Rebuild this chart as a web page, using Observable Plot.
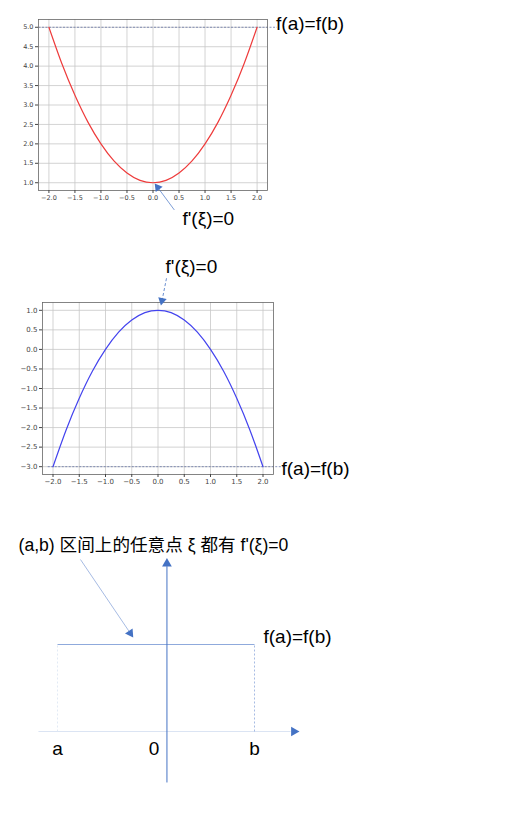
<!DOCTYPE html>
<html><head><meta charset="utf-8">
<script src="https://cdn.jsdelivr.net/npm/d3@7"></script>
<script src="https://cdn.jsdelivr.net/npm/@observablehq/plot@0.6"></script>
<style>
body{margin:0;background:#fff;}
#wrap{position:relative;width:512px;height:834px;overflow:hidden;background:#fff;}
.panel{position:absolute;left:0;}
</style></head><body><div id="wrap"></div>
<script>
// ---- data ----
const xValues   = [-2,-1.75,-1.5,-1.25,-1,-0.75,-0.5,-0.25,0,0.25,0.5,0.75,1,1.25,1.5,1.75,2];
const redValues = [5,4.06,3.25,2.56,2,1.56,1.25,1.06,1,1.06,1.25,1.56,2,2.56,3.25,4.06,5];
const blueValues= [-3,-2.06,-1.25,-0.56,0,0.44,0.75,0.94,1,0.94,0.75,0.44,0,-0.56,-1.25,-2.06,-3];
const xTicks    = [-2,-1.5,-1,-0.5,0,0.5,1,1.5,2];
const redTicks  = [1,1.5,2,2.5,3,3.5,4,4.5,5];
const blueTicks = [-3,-2.5,-2,-1.5,-1,-0.5,0,0.5,1];
const redLevel  = 5;
const blueLevel = -3;
const levelLabel = "f(a)=f(b)";
const stationaryLabel = "f'(ξ)=0";
const diagramTitle = "(a,b) 区间上的任意点 ξ 都有 f'(ξ)=0";
const diagramNames = ["a","0","b"];
const diagramAt = [-1, 0, 0.8];   // a, origin, b
const diagramLevel = 1;

const FONT = "'Liberation Sans', Arial, 'Noto Sans CJK SC', sans-serif";
const TICKFONT = "'DejaVu Sans', sans-serif";
const fmt = d3.format(".1f");
const wrap = document.getElementById("wrap");
function place(svg, top){ const d=document.createElement("div"); d.className="panel"; d.style.top=top+"px"; d.appendChild(svg); wrap.appendChild(d); }
const pts = (ys) => xValues.map((x,i)=>({x, y:ys[i]}));
const gridStyle = {stroke:"#c8c8c8", strokeOpacity:1, strokeWidth:0.8};

// ---- chart 1 : red parabola ----
const c1 = Plot.plot({
  width:512, height:250, marginLeft:38, marginRight:245, marginTop:19, marginBottom:60,
  x:{domain:[-2.2,2.2], label:null}, y:{domain:[0.8,5.2], label:null},
  style:{fontFamily:TICKFONT, fontSize:"6.5px", color:"#444", background:"transparent", overflow:"visible"},
  marks:[
    Plot.gridX(xTicks, gridStyle),
    Plot.gridY(redTicks, gridStyle),
    Plot.link([{x1:-2.2, x2:2.38, y:redLevel}], {x1:"x1", x2:"x2", y1:"y", y2:"y", stroke:"#56679e", strokeWidth:0.7, strokeDasharray:"2,1.5"}),
    Plot.line(pts(redValues), {x:"x", y:"y", stroke:"#ee3b3b", strokeWidth:1.2, curve:"natural"}),
    Plot.frame({stroke:"#666", strokeWidth:0.8}),
    Plot.axisX(xTicks, {tickSize:3, tickPadding:2, tickFormat:fmt, fontSize:6.5}),
    Plot.axisY(redTicks, {tickSize:3, tickPadding:2, tickFormat:fmt, fontSize:6.5}),
    Plot.text([levelLabel], {x:()=>2.364, y:()=>5.08, text:d=>d, textAnchor:"start", lineAnchor:"middle", fontSize:19, fontFamily:FONT, fill:"#000"}),
    Plot.text([stationaryLabel], {x:()=>0.565, y:()=>0.071, text:d=>d, textAnchor:"start", lineAnchor:"middle", fontSize:19, fontFamily:FONT, fill:"#000"}),
    Plot.link([{x1:0.41, y1:0.30, x2:0.09, y2:0.88}], {x1:"x1", y1:"y1", x2:"x2", y2:"y2", stroke:"#4472c4", strokeWidth:0.7}),
    Plot.dot([{x:0.09, y:0.88}], {x:"x", y:"y", symbol:"triangle", r:3.2, fill:"#4472c4", stroke:"none", rotate:-37})
  ]
});
place(c1, 0);

// ---- chart 2 : blue parabola ----
const c2 = Plot.plot({
  width:512, height:250, marginLeft:42, marginRight:239, marginTop:52, marginBottom:26,
  x:{domain:[-2.2,2.2], label:null}, y:{domain:[-3.2,1.2], label:null},
  style:{fontFamily:TICKFONT, fontSize:"7px", color:"#444", background:"transparent", overflow:"visible"},
  marks:[
    Plot.gridX(xTicks, gridStyle),
    Plot.gridY(blueTicks, gridStyle),
    Plot.link([{x1:-2.1, x2:2.4, y:blueLevel}], {x1:"x1", x2:"x2", y1:"y", y2:"y", stroke:"#56679e", strokeWidth:0.7, strokeDasharray:"2,1.5"}),
    Plot.line(pts(blueValues), {x:"x", y:"y", stroke:"#4343ee", strokeWidth:1.2, curve:"natural"}),
    Plot.frame({stroke:"#666", strokeWidth:0.8}),
    Plot.axisX(xTicks, {tickSize:3, tickPadding:2, tickFormat:fmt, fontSize:7}),
    Plot.axisY(blueTicks, {tickSize:3, tickPadding:2, tickFormat:fmt, fontSize:7}),
    Plot.text([stationaryLabel], {x:()=>0.143, y:()=>2.10, text:d=>d, textAnchor:"start", lineAnchor:"middle", fontSize:19, fontFamily:FONT, fill:"#000"}),
    Plot.text([levelLabel], {x:()=>2.352, y:()=>-3.05, text:d=>d, textAnchor:"start", lineAnchor:"middle", fontSize:19, fontFamily:FONT, fill:"#000"}),
    Plot.link([{x1:0.162, y1:1.82, x2:0.08, y2:1.27}], {x1:"x1", y1:"y1", x2:"x2", y2:"y2", stroke:"#4472c4", strokeWidth:0.8, strokeDasharray:"3,2"}),
    Plot.dot([{x:0.075, y:1.25}], {x:"x", y:"y", symbol:"triangle", r:3.2, fill:"#4472c4", stroke:"none", rotate:-168})
  ]
});
place(c2, 250);

// ---- chart 3 : constant function diagram ----
const [aX, oX, bX] = diagramAt;
const c3 = Plot.plot({
  width:512, height:334, marginLeft:57, marginRight:258, marginTop:144, marginBottom:103,
  x:{domain:[aX, bX], axis:null}, y:{domain:[0, diagramLevel], axis:null},
  style:{fontFamily:FONT, background:"transparent", overflow:"visible"},
  marks:[
    Plot.link([{x1:-1.174, x2:1.13, y:0}], {x1:"x1", x2:"x2", y1:"y", y2:"y", stroke:"#dbe4f3", strokeWidth:1}),
    Plot.dot([{x:1.16, y:0}], {x:"x", y:"y", symbol:"triangle", r:3.6, fill:"#4472c4", stroke:"none", rotate:90}),
    Plot.link([{x:aX}], {x1:"x", x2:"x", y1:()=>0, y2:()=>diagramLevel, stroke:"#dbe4f3", strokeWidth:0.8, strokeDasharray:"2,2"}),
    Plot.link([{x:bX}], {x1:"x", x2:"x", y1:()=>0, y2:()=>diagramLevel, stroke:"#8faadc", strokeWidth:0.8, strokeDasharray:"2,2"}),
    Plot.link([{x1:aX, x2:bX, y:diagramLevel}], {x1:"x1", x2:"x2", y1:"y", y2:"y", stroke:"#8faadc", strokeWidth:1}),
    Plot.link([{x:oX}], {x1:"x", x2:"x", y1:()=>-0.586, y2:()=>1.9, stroke:"#4472c4", strokeWidth:1}),
    Plot.dot([{x:oX, y:1.93}], {x:"x", y:"y", symbol:"triangle", r:3.6, fill:"#4472c4", stroke:"none"}),
    Plot.link([{x1:-0.79, y1:1.977, x2:-0.34, y2:1.14}], {x1:"x1", y1:"y1", x2:"x2", y2:"y2", stroke:"#8faadc", strokeWidth:0.8}),
    Plot.dot([{x:-0.335, y:1.13}], {x:"x", y:"y", symbol:"triangle", r:3.4, fill:"#4472c4", stroke:"none", rotate:146}),
    Plot.text([diagramTitle], {x:()=>-1.356, y:()=>2.138, text:d=>d, textAnchor:"start", lineAnchor:"middle", fontSize:17.6, fill:"#000"}),
    Plot.text([levelLabel], {x:()=>0.882, y:()=>1.092, text:d=>d, textAnchor:"start", lineAnchor:"middle", fontSize:19, fill:"#000"}),
    Plot.text(diagramNames, {x:(d,i)=>diagramAt[i], y:()=>-0.195, text:d=>d, textAnchor:"middle", lineAnchor:"middle", fontSize:19, fill:"#000"}),
  ]
});
place(c3, 500);
c3.querySelectorAll("text").forEach(t=>{ if(t.textContent==="0") t.setAttribute("transform", (t.getAttribute("transform")||"") + " translate(-13,0)"); });
</script></body></html>
